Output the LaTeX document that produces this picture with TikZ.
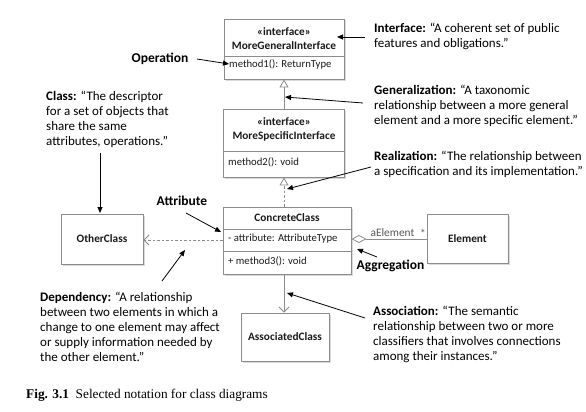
\documentclass[tikz,border=0pt]{standalone}
\usepackage{fontspec}
\setmainfont{Carlito}
\newfontfamily\capfont{Liberation Serif}
\usetikzlibrary{arrows.meta,calc}
\definecolor{boxline}{HTML}{8C8C8C}
\definecolor{txt}{HTML}{1A1A1A}
\tikzset{
  umlbox/.style={draw=boxline, line width=0.9pt, fill=white, inner sep=0pt},
  boxtext/.style={font=\fontsize{10.7}{14}\selectfont, text=txt, inner sep=0pt},
  boxbold/.style={font=\fontsize{11.3}{14}\selectfont\bfseries, text=txt, inner sep=0pt},
  note/.style={font=\fontsize{13}{15}\selectfont, text=black, align=left, inner sep=0pt, anchor=west},
  notelabel/.style={font=\fontsize{13.5}{15}\selectfont\bfseries, text=black, inner sep=0pt},
  callout/.style={draw=black, line width=0.8pt, -{Triangle[length=6pt,width=5pt]}},
  umlline/.style={draw=boxline, line width=0.8pt},
  gen/.style={umlline, -{Triangle[open,length=8pt,width=9pt,fill=white]}},
  real/.style={umlline, dash pattern=on 2.5pt off 2pt, -{Triangle[open,length=8pt,width=9pt,fill=white]}},
  dep/.style={umlline, dash pattern=on 2.5pt off 2pt, -{Straight Barb[length=5pt,width=10pt]}},
  assoc/.style={umlline, -{Straight Barb[length=5pt,width=10pt]}},
  aggr/.style={umlline, -{Diamond[open,length=15pt,width=8pt,fill=white]}},
  shadowed/.style={preaction={fill=black!15, draw=none, transform canvas={shift={(1.5pt,-1.5pt)}}}}
}
\begin{document}
\begin{tikzpicture}[x=1pt,y=-1pt]
\useasboundingbox (0,0) rectangle (586,412);

% ---- class boxes
\node[umlbox, shadowed, minimum width=120pt, minimum height=60pt] (mgi) at (284,49) {};
\draw[boxline, line width=0.8pt] (mgi.west |- 0,56) -- (mgi.east |- 0,56);
\node[boxbold] (mgis) at (284,32) {«interface»};
\node[boxbold] (mgin) at (284,46) {MoreGeneralInterface};
\node[boxtext, anchor=west] (m1) at (229,64) {method1(): ReturnType};

\node[umlbox, shadowed, minimum width=121pt, minimum height=68pt] (msi) at (283.5,143) {};
\draw[boxline, line width=0.8pt] (msi.west |- 0,151) -- (msi.east |- 0,151);
\node[boxbold] (msis) at (284,122) {«interface»};
\node[boxbold] (msin) at (284,136) {MoreSpecificInterface};
\node[boxtext, anchor=west] (m2) at (228,162) {method2(): void};

\node[umlbox, shadowed, minimum width=128pt, minimum height=67pt] (cc) at (287,240.5) {};
\draw[boxline, line width=0.8pt] (cc.west |- 0,229) -- (cc.east |- 0,229);
\draw[boxline, line width=0.8pt] (cc.west |- 0,251) -- (cc.east |- 0,251);
\node[boxbold] (ccn) at (287,218) {ConcreteClass};
\node[boxtext, anchor=west] (attr) at (228,239) {- attribute: AttributeType};
\node[boxtext, anchor=west] (m3) at (228,261) {+ method3(): void};

\node[umlbox, shadowed, minimum width=82pt, minimum height=50pt] (oc) at (102,239) {};
\node[boxbold] at (oc) {OtherClass};

\node[umlbox, shadowed, minimum width=81pt, minimum height=49pt] (el) at (467.5,238.5) {};
\node[boxbold] at (el) {Element};

\node[umlbox, shadowed, minimum width=88pt, minimum height=48pt] (ac) at (285,337) {};
\node[boxbold] at (ac) {AssociatedClass};

% ---- UML relations
\coordinate (gtop) at (284,79);
\draw[gen] (msi.north -| gtop) -- (mgi.south -| gtop);
\draw[real] (cc.north -| gtop) -- (msi.south -| gtop);
\coordinate (depy) at (0,240);
\draw[dep] (cc.west |- depy) -- (oc.east |- depy);
\coordinate (aggy) at (0,239);
\draw[aggr] (el.west |- aggy) -- (cc.east |- aggy);
\node[font=\fontsize{11.4}{13}\selectfont, text=boxline!60!black, inner sep=0pt] (ael) at (392.5,233) {aElement};
\node[font=\fontsize{11.4}{13}\selectfont, text=boxline!60!black, inner sep=0pt] (star) at (423,233) {*};
\draw[assoc] (cc.south -| gtop) -- (ac.north -| gtop);

% ---- annotations
\node[note] (inote) at (374,36.5) {\textbf{Interface:} “A coherent set of public\\features and obligations.”};
\node[note] (gnote) at (374,106) {\textbf{Generalization:} “A taxonomic\\relationship between a more general\\element and a more specific element.”};
\node[note] (rnote) at (374,164.5) {\textbf{Realization:} “The relationship between\\a specification and its implementation.”};
\node[note] (cnote) at (46,119) {\textbf{Class:} “The descriptor\\for a set of objects that\\share the same\\attributes, operations.”};
\node[note] (dnote) at (40,327) {\textbf{Dependency:} “A relationship\\between two elements in which a\\change to one element may affect\\or supply information needed by\\the other element.”};
\node[note] (anote) at (373,334.5) {\textbf{Association:} “The semantic\\relationship between two or more\\classifiers that involves connections\\among their instances.”};
\node[notelabel] (oplab) at (160,59) {Operation};
\node[notelabel] (atlab) at (182,201) {Attribute};
\node[notelabel] (aglab) at (390.5,266) {Aggregation};

% callout arrows
\coordinate (i1) at (365,37);  \coordinate (i2) at (337,37);
\draw[callout] (i1) -- (i2);
\coordinate (g1) at (363,103); \coordinate (g2) at (285,97);
\draw[callout] (g1) -- (g2);
\coordinate (r1) at (371,167); \coordinate (r2) at (287,189);
\draw[callout] (r1) -- (r2);
\coordinate (o1) at (197,59);  \coordinate (o2) at (229,64);
\draw[callout] (o1) -- (o2);
\coordinate (c1) at (100,153); \coordinate (c2) at (100,213);
\draw[callout] (c1) -- (c2);
\coordinate (a1) at (186,213); \coordinate (a2) at (221,232);
\draw[callout] (a1) -- (a2);
\coordinate (d1) at (162,281); \coordinate (d2) at (185,250);
\draw[callout] (d1) -- (d2);
\coordinate (s1) at (365,318); \coordinate (s2) at (287,293);
\draw[callout] (s1) -- (s2);
\coordinate (ag1) at (377,257); \coordinate (ag2) at (357,249);
\draw[callout] (ag1) -- (ag2);

% ---- caption
\node[font=\capfont\fontsize{13.3}{15}\selectfont, anchor=west, inner sep=0pt] (cap) at (26,395) {\textbf{Fig. 3.1}\enspace Selected notation for class diagrams};
\end{tikzpicture}
\end{document}
